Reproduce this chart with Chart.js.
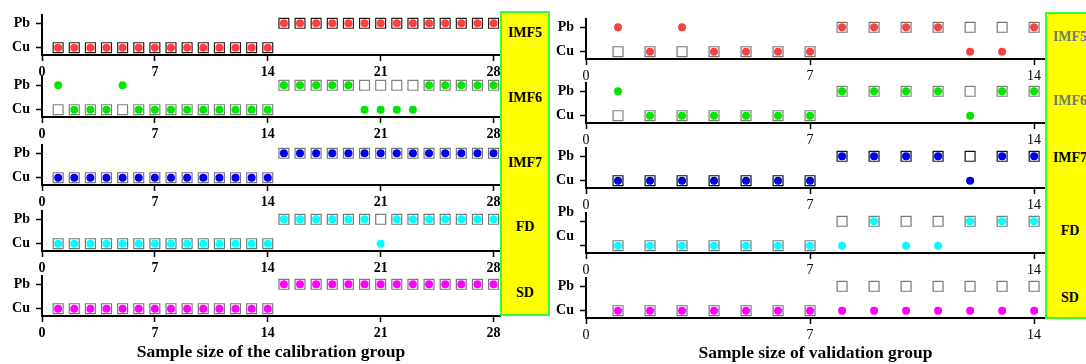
<!DOCTYPE html>
<html>
<head>
<meta charset="utf-8">
<script src="https://cdn.jsdelivr.net/npm/chart.js@4.4.1/dist/chart.umd.min.js"></script>
<style>
  html, body { margin: 0; padding: 0; background: #fff; overflow: hidden; width: 1086px; height: 364px; }
  canvas { position: absolute; left: 0; top: 0; }
  .box { position: absolute; box-sizing: border-box; background: #ffff00; border: 2px solid #33ff33; z-index: 5; }
  .tag { position: absolute; font: bold 14px "Liberation Serif", "Times New Roman", serif; line-height: 16px;
         white-space: nowrap; text-align: center; z-index: 6; }
</style>
</head>
<body>
<script>
// Class rows on the y axis (index = y value)
const rows = ['Cu', 'Pb'];
const methods = ['IMF5', 'IMF6', 'IMF7', 'FD', 'SD'];
const calibTicks = [0, 7, 14, 21, 28];
const validTicks = [0, 7, 14];

// Calibration group: true class of each sample (squares)
const calibActual = ['Cu','Cu','Cu','Cu','Cu','Cu','Cu','Cu','Cu','Cu','Cu','Cu','Cu','Cu',
                     'Pb','Pb','Pb','Pb','Pb','Pb','Pb','Pb','Pb','Pb','Pb','Pb','Pb','Pb'];
// Calibration group: predicted class per method (dots)
const calibIMF5 = ['Cu','Cu','Cu','Cu','Cu','Cu','Cu','Cu','Cu','Cu','Cu','Cu','Cu','Cu',
                   'Pb','Pb','Pb','Pb','Pb','Pb','Pb','Pb','Pb','Pb','Pb','Pb','Pb','Pb'];
const calibIMF6 = ['Pb','Cu','Cu','Cu','Pb','Cu','Cu','Cu','Cu','Cu','Cu','Cu','Cu','Cu',
                   'Pb','Pb','Pb','Pb','Pb','Cu','Cu','Cu','Cu','Pb','Pb','Pb','Pb','Pb'];
const calibIMF7 = ['Cu','Cu','Cu','Cu','Cu','Cu','Cu','Cu','Cu','Cu','Cu','Cu','Cu','Cu',
                   'Pb','Pb','Pb','Pb','Pb','Pb','Pb','Pb','Pb','Pb','Pb','Pb','Pb','Pb'];
const calibFD   = ['Cu','Cu','Cu','Cu','Cu','Cu','Cu','Cu','Cu','Cu','Cu','Cu','Cu','Cu',
                   'Pb','Pb','Pb','Pb','Pb','Pb','Cu','Pb','Pb','Pb','Pb','Pb','Pb','Pb'];
const calibSD   = ['Cu','Cu','Cu','Cu','Cu','Cu','Cu','Cu','Cu','Cu','Cu','Cu','Cu','Cu',
                   'Pb','Pb','Pb','Pb','Pb','Pb','Pb','Pb','Pb','Pb','Pb','Pb','Pb','Pb'];

// Validation group: true class and predictions
const validActual = ['Cu','Cu','Cu','Cu','Cu','Cu','Cu','Pb','Pb','Pb','Pb','Pb','Pb','Pb'];
const validIMF5 = ['Pb','Cu','Pb','Cu','Cu','Cu','Cu','Pb','Pb','Pb','Pb','Cu','Cu','Pb'];
const validIMF6 = ['Pb','Cu','Cu','Cu','Cu','Cu','Cu','Pb','Pb','Pb','Pb','Cu','Pb','Pb'];
const validIMF7 = ['Cu','Cu','Cu','Cu','Cu','Cu','Cu','Pb','Pb','Pb','Pb','Cu','Pb','Pb'];
const validFD   = ['Cu','Cu','Cu','Cu','Cu','Cu','Cu','Cu','Pb','Cu','Cu','Pb','Pb','Pb'];
const validSD   = ['Cu','Cu','Cu','Cu','Cu','Cu','Cu','Cu','Cu','Cu','Cu','Cu','Cu','Cu'];

const calibPred = [calibIMF5, calibIMF6, calibIMF7, calibFD, calibSD];
const validPred = [validIMF5, validIMF6, validIMF7, validFD, validSD];

// ---- styling / layout ----
const FONT = '"Liberation Serif", "Times New Roman", serif';
const dotColors = ['#ff4040', '#00e600', '#0000ee', '#00ffff', '#ff00ff'];
const W = 1086, H = 364;

const panels = [
  { pred: calibPred, actual: calibActual, ticks: calibTicks, xmax: 28.4,
    padLeft: 0, yW: 42, right: 500, tickBold: true,
    bottoms: [55, 117, 185, 251, 316],
    squareBorders: ['#222', '#808080', '#777', '#777', '#777'],
    labelOffsets: [0, 0, 0, 0, 0],
    title: 'Sample size of the calibration group', titlePad: 1.5 },
  { pred: validPred, actual: validActual, ticks: validTicks, xmax: 14.34,
    padLeft: 550, yW: 36, right: 1045, tickBold: false,
    bottoms: [59, 123, 188, 253, 318],
    squareBorders: ['#777', '#808080', '#111', '#777', '#777'],
    labelOffsets: [0, 0, 0, -9, 0],
    title: 'Sample size of validation group', titlePad: 0 }
];

function toPoints(list) {
  return list.map((r, i) => ({ x: i + 1, y: rows.indexOf(r) }));
}

function makeStrip(p, m) {
  const cv = document.createElement('canvas');
  cv.width = W; cv.height = H;
  document.body.appendChild(cv);
  const bottom = p.bottoms[m];
  const last = m === methods.length - 1;
  new Chart(cv, {
    type: 'scatter',
    data: {
      datasets: [
        { label: methods[m] + ' predicted', data: toPoints(p.pred[m]), order: 0,
          pointStyle: 'circle', pointRadius: 4, pointBorderWidth: 0,
          pointBackgroundColor: dotColors[m], pointHoverRadius: 4 },
        { label: methods[m] + ' actual', data: toPoints(p.actual), order: 1,
          pointStyle: 'rect', pointRadius: 7, pointBorderWidth: 1.2,
          pointBorderColor: p.squareBorders[m], pointBackgroundColor: '#ffffff', pointHoverRadius: 7 }
      ]
    },
    options: {
      responsive: false, animation: false, devicePixelRatio: 1, events: [],
      clip: false,
      layout: { padding: { left: p.padLeft, right: W - p.right, top: bottom - 40, bottom: 0 } },
      plugins: { legend: { display: false }, tooltip: { enabled: false } },
      scales: {
        x: {
          type: 'linear', position: 'bottom', min: 0, max: p.xmax,
          afterBuildTicks: s => { s.ticks = p.ticks.map(v => ({ value: v })); },
          afterFit: s => { s.height = H - bottom; },
          grid: { drawOnChartArea: false, drawTicks: true, tickLength: 6, tickColor: '#000', tickWidth: 1.5 },
          border: { display: true, color: '#000', width: 2 },
          ticks: { padding: 3, color: '#000', autoSkip: false, maxRotation: 0,
                   font: { family: FONT, size: 14, weight: p.tickBold ? 'bold' : 'normal' } },
          title: { display: last, text: p.title, color: '#000',
                   font: { family: FONT, size: 17.5, weight: 'bold' },
                   padding: { top: 0, bottom: p.titlePad } }
        },
        y: {
          type: 'linear', min: -0.3, max: 1.34,
          afterBuildTicks: s => { s.ticks = [0, 1].map(v => ({ value: v })); },
          afterFit: s => { s.width = p.yW; },
          grid: { drawOnChartArea: false, drawTicks: true, tickLength: 6, tickColor: '#000', tickWidth: 1.5 },
          border: { display: true, color: '#000', width: 2 },
          ticks: { padding: 6, color: '#000', labelOffset: p.labelOffsets[m],
                   callback: v => rows[v],
                   font: { family: FONT, size: 14, weight: 'bold' } }
        }
      }
    }
  });
}

panels.forEach(p => methods.forEach((_, m) => makeStrip(p, m)));

// Method legend boxes beside each panel
const boxes = [
  { left: 500, top: 11, width: 50, height: 305, centers: [33, 98, 163, 227, 293],
    colors: ['#000', '#000', '#000', '#000', '#000'] },
  { left: 1045, top: 12, width: 50, height: 307, centers: [37, 101, 158, 231, 298],
    colors: ['#777', '#777', '#000', '#000', '#000'] }
];
boxes.forEach(b => {
  const d = document.createElement('div');
  d.className = 'box';
  Object.assign(d.style, { left: b.left + 'px', top: b.top + 'px', width: b.width + 'px', height: b.height + 'px' });
  document.body.appendChild(d);
  methods.forEach((name, i) => {
    const t = document.createElement('div');
    t.className = 'tag';
    t.textContent = name;
    Object.assign(t.style, { left: b.left + 'px', width: b.width + 'px', top: (b.centers[i] - 8) + 'px', color: b.colors[i] });
    document.body.appendChild(t);
  });
});
</script>
</body>
</html>
